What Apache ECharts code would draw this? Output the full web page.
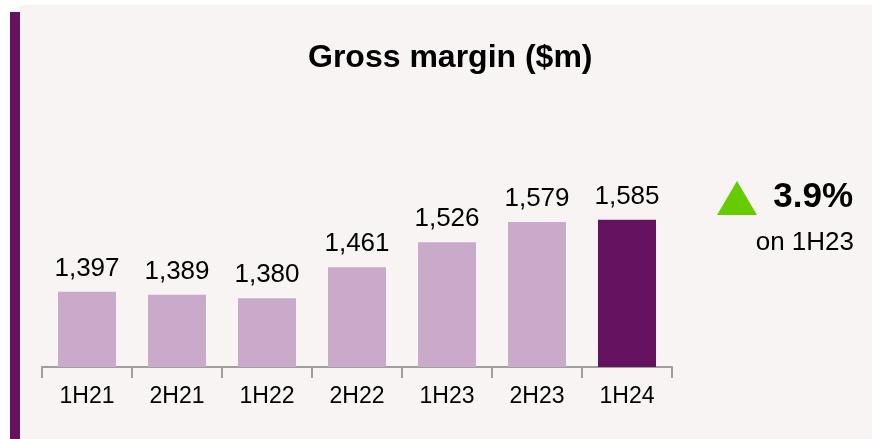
<!DOCTYPE html>
<html>
<head>
<meta charset="utf-8">
<script src="https://cdn.jsdelivr.net/npm/echarts@6/dist/echarts.min.js"></script>
<style>
  html, body { margin: 0; padding: 0; background: #ffffff; }
  #chart { width: 872px; height: 439px; }
</style>
</head>
<body>
<div id="chart"></div>
<script>
const periods = ['1H21', '2H21', '1H22', '2H22', '1H23', '2H23', '1H24'];
const grossMargin = [1397, 1389, 1380, 1461, 1526, 1579, 1585];
const titleText = 'Gross margin ($m)';
const compareLabel = 'on 1H23';

const FONT = '"Liberation Sans", Arial, sans-serif';
const LIGHT = '#c9aacb';
const DARK = '#651360';

const last = grossMargin[grossMargin.length - 1];
const prev = grossMargin[periods.indexOf('1H23')];
const changeText = ((last / prev - 1) * 100).toFixed(1) + '%';

const chart = echarts.init(document.getElementById('chart'));

const options = {
  backgroundColor: '#ffffff',
  animation: false,
  title: {
    text: titleText,
    left: 303,
    top: 37,
    textStyle: { fontFamily: FONT, fontSize: 32, fontWeight: 'bold', color: '#000' }
  },
  grid: { left: 42, right: 200, top: 214, bottom: 72 },
  xAxis: {
    type: 'category',
    data: periods,
    axisLine: { lineStyle: { color: '#9e9e9e', width: 2 } },
    axisTick: { show: true, alignWithLabel: false, length: 11, lineStyle: { color: '#9e9e9e', width: 2 } },
    axisLabel: { margin: 18, fontFamily: FONT, fontSize: 23, color: '#000' }
  },
  yAxis: {
    type: 'value',
    min: 1200,
    max: 1600,
    show: false
  },
  graphic: [
    // panel background
    {
      type: 'rect', z: -10, silent: true,
      shape: { x: 17, y: 5, width: 860, height: 440, r: [8, 0, 0, 0] },
      style: { fill: '#f8f4f4' }
    },
    // purple accent strip
    {
      type: 'rect', z: -5, silent: true,
      shape: { x: 10, y: 12, width: 10, height: 430 },
      style: { fill: DARK }
    },
    {
      type: 'polygon', silent: true,
      shape: { points: [[717, 215], [757, 215], [737, 181]] },
      style: { fill: '#66cc00' }
    },
    {
      type: 'text', silent: true,
      x: 853, y: 180,
      style: { text: changeText, fontFamily: FONT, fontSize: 35, fontWeight: 'bold', fill: '#000', align: 'right', verticalAlign: 'top' }
    },
    {
      type: 'text', silent: true,
      x: 854, y: 230,
      style: { text: compareLabel, fontFamily: FONT, fontSize: 26, fill: '#000', align: 'right', verticalAlign: 'top' }
    }
  ],
  series: [
    {
      type: 'bar',
      data: grossMargin,
      barWidth: 58,
      itemStyle: {
        color: (p) => (p.dataIndex === grossMargin.length - 1 ? DARK : LIGHT)
      },
      label: {
        show: true,
        position: 'top',
        distance: 10,
        fontFamily: FONT,
        fontSize: 26,
        color: '#000',
        formatter: (p) => p.value.toLocaleString('en-US')
      }
    }
  ]
};

chart.setOption(options);
</script>
</body>
</html>
